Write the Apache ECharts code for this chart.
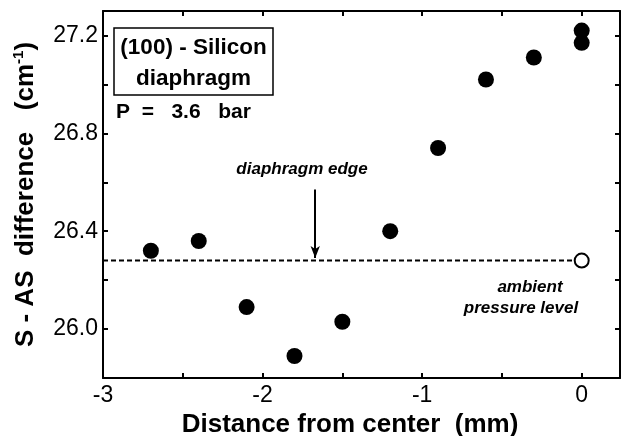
<!DOCTYPE html>
<html>
<head>
<meta charset="utf-8">
<script src="https://cdn.jsdelivr.net/npm/echarts@6/dist/echarts.min.js"></script>
<style>html,body{margin:0;padding:0;background:#fff}#c{width:622px;height:436px}</style>
</head>
<body>
<div id="c"></div>
<script>
// Data
const distance = [-2.7, -2.4, -2.1, -1.8, -1.5, -1.2, -0.9, -0.6, -0.3, 0, 0];
const shift    = [26.32, 26.36, 26.09, 25.89, 26.03, 26.40, 26.74, 27.02, 27.11, 27.22, 27.17];
const ambientX = [-3, 0];
const ambientLevel = 26.28;
const edgeX = -1.67;
const edgeArrowY = [26.57, 26.29];
const yLabels = [26.0, 26.4, 26.8, 27.2];
const xLabels = [-3, -2, -1, 0];

const font = 'Liberation Sans, Arial, Helvetica, sans-serif';
const chart = echarts.init(document.getElementById('c'), null, {renderer: 'canvas'});
const axisLine = {show: true, onZero: false, lineStyle: {color: '#000', width: 2}};
const tick = {show: true, inside: true, length: 5, lineStyle: {color: '#000', width: 2}};

chart.setOption({
  animation: false,
  backgroundColor: '#fff',
  grid: {left: 103, right: 2, top: 11, bottom: 58, containLabel: false, outerBoundsMode: 'none'},
  xAxis: [{
    type: 'value', min: -3, max: 0.24, interval: 0.5,
    axisLine, axisTick: tick, splitLine: {show: false},
    axisLabel: {
      margin: 6, color: '#000', fontSize: 23, fontFamily: font,
      formatter: v => xLabels.includes(Math.round(v * 10) / 10) ? String(v) : ''
    },
    name: 'Distance from center  (mm)', nameLocation: 'middle', nameGap: 28,
    nameTextStyle: {color: '#000', fontSize: 26, fontWeight: 'bold', fontFamily: font, padding: [0, 23, 0, 0]}
  }, {
    type: 'value', position: 'top', min: -3, max: 0.24, interval: 0.5,
    axisLine, axisTick: tick, axisLabel: {show: false}, splitLine: {show: false}
  }],
  yAxis: [{
    type: 'value', min: 25.8, max: 27.3, interval: 0.2,
    axisLine, axisTick: tick, splitLine: {show: false},
    axisLabel: {
      margin: 5, color: '#000', fontSize: 23, fontFamily: font,
      formatter: v => yLabels.some(l => Math.abs(l - v) < 1e-6) ? v.toFixed(1) : ''
    },
    name: '{a|S - AS  difference   (cm}{s|-1}{a|)}', nameLocation: 'middle', nameGap: 62,
    nameTextStyle: {
      color: '#000', fontFamily: font,
      rich: {
        a: {fontSize: 26, fontWeight: 'bold', fontFamily: font, color: '#000', lineHeight: 30},
        s: {fontSize: 15, fontWeight: 'bold', fontFamily: font, color: '#000', verticalAlign: 'top', lineHeight: 30, padding: [0, 0, 12, 0]}
      }
    }
  }, {
    type: 'value', position: 'right', min: 25.8, max: 27.3, interval: 0.2,
    axisLine, axisTick: tick, axisLabel: {show: false}, splitLine: {show: false}
  }],
  series: [{
    type: 'line',
    data: ambientX.map(x => [x, ambientLevel]),
    symbol: 'none',
    lineStyle: {color: '#000', width: 2, type: [5, 3]},
    z: 2,
    markLine: {
      silent: true, symbol: ['none', 'arrow'], symbolSize: [7, 12],
      label: {show: false},
      lineStyle: {color: '#000', width: 2, type: 'solid'},
      data: [[{coord: [edgeX, edgeArrowY[0]]}, {coord: [edgeX, edgeArrowY[1]]}]]
    }
  }, {
    type: 'scatter',
    data: [[0, ambientLevel]],
    symbol: 'circle', symbolSize: 14,
    itemStyle: {color: '#fff', borderColor: '#000', borderWidth: 2, opacity: 1},
    z: 3
  }, {
    type: 'scatter',
    data: distance.map((d, i) => [d, shift[i]]),
    symbol: 'circle', symbolSize: 16,
    itemStyle: {color: '#000', opacity: 1},
    z: 4
  }],
  graphic: [
    {type: 'rect', shape: {x: 114, y: 28, width: 159, height: 67}, style: {fill: '#fff', stroke: '#000', lineWidth: 1.5}, z: 10},
    {type: 'text', x: 193.5, y: 48, style: {text: '(100) - Silicon', font: 'bold 22.5px ' + font, fill: '#000', align: 'center', verticalAlign: 'middle'}, z: 11},
    {type: 'text', x: 193.5, y: 79, style: {text: 'diaphragm', font: 'bold 22.5px ' + font, fill: '#000', align: 'center', verticalAlign: 'middle'}, z: 11},
    {type: 'text', x: 116, y: 112, style: {text: 'P  =   3.6   bar', font: 'bold 21px ' + font, fill: '#000', align: 'left', verticalAlign: 'middle'}, z: 11},
    {type: 'text', x: 302, y: 169, style: {text: 'diaphragm edge', font: 'italic bold 17px ' + font, fill: '#000', align: 'center', verticalAlign: 'middle'}, z: 11},
    {type: 'text', x: 530, y: 287, style: {text: 'ambient', font: 'italic bold 17px ' + font, fill: '#000', align: 'center', verticalAlign: 'middle'}, z: 11},
    {type: 'text', x: 521, y: 308, style: {text: 'pressure level', font: 'italic bold 17px ' + font, fill: '#000', align: 'center', verticalAlign: 'middle'}, z: 11}
  ]
});
</script>
</body>
</html>
